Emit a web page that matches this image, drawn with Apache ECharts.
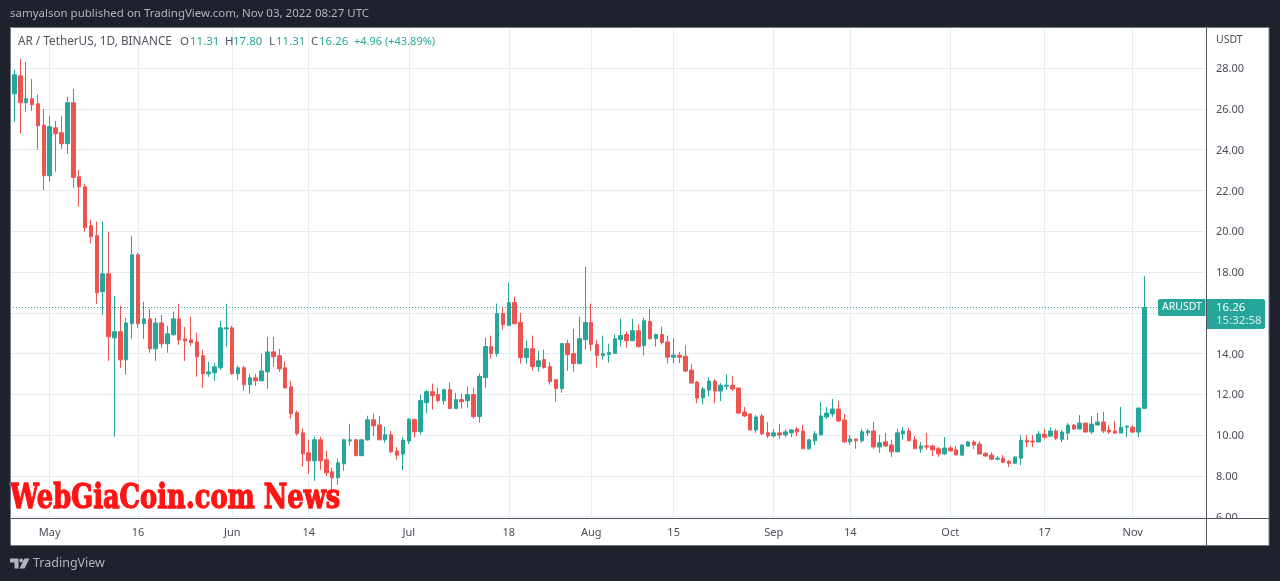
<!DOCTYPE html>
<html>
<head>
<meta charset="utf-8">
<style>html,body{margin:0;padding:0;background:#1e222d}#c{width:1280px;height:581px}</style>
<script src="https://cdn.jsdelivr.net/npm/echarts@6/dist/echarts.min.js"></script>
</head>
<body>
<div id="c"></div>
<script>
// Daily candles, first entry is Apr 24 2022, last is Nov 3 2022.
var opens = [
27.85,26.74,27.62,26.30,26.50,26.25,25.20,
22.72,25.07,24.83,24.29,26.30,22.67,22.18,20.27,19.78,17.03,17.91,14.77,15.07,13.69,15.46,18.84,15.46,15.70,14.23,15.50,14.48,14.92,15.70,14.72,14.67,14.57,13.89,13.01,13.06,13.30,15.21,
15.26,13.01,13.30,12.47,12.81,12.66,13.10,14.08,13.89,13.30,12.37,11.10,10.11,9.13,8.74,9.77,8.79,8.20,7.91,8.59,9.72,9.77,8.99,9.77,10.75,10.50,9.77,10.02,9.22,9.07,
9.71,10.76,10.17,11.59,12.13,11.99,11.69,12.23,11.30,11.74,11.69,11.99,10.91,12.82,14.34,14.00,15.96,15.37,16.50,15.52,13.80,14.24,13.36,13.70,13.36,12.72,12.28,14.49,14.00,13.51,14.68,
15.52,14.44,13.90,13.95,14.00,14.68,14.93,14.63,15.12,14.39,15.57,14.73,14.93,14.57,13.82,13.92,13.87,13.19,12.60,11.82,12.21,12.65,12.16,12.40,12.45,12.31,11.13,11.04,10.25,10.94,10.11,
9.96,10.11,10.01,10.11,10.30,10.20,9.33,9.72,10.01,10.89,11.04,11.28,10.74,9.67,9.81,9.72,10.11,10.20,9.42,9.67,9.52,9.18,10.06,10.20,9.77,9.33,9.47,9.47,9.33,9.08,
9.37,9.28,9.02,9.46,9.66,9.56,9.11,9.02,8.82,8.87,8.72,8.62,8.87,9.75,9.70,9.66,10.05,9.95,10.20,9.80,10.10,10.49,10.30,10.59,10.15,10.49,10.64,10.25,10.20,10.10,10.39,
10.39,10.15,11.31];
var closes = [
26.68,27.67,26.30,26.50,26.20,25.17,22.72,
25.12,24.78,24.29,26.30,22.63,22.18,20.17,19.73,16.98,17.91,14.82,15.07,13.69,15.50,18.84,15.46,15.70,14.23,15.50,14.48,14.97,15.70,14.67,14.62,14.53,13.84,13.01,13.10,13.35,15.26,15.26,
13.01,13.30,12.47,12.81,12.66,13.15,14.08,13.84,13.25,12.32,11.05,10.07,9.08,8.74,9.77,8.74,8.15,7.91,8.64,9.77,9.77,8.99,9.77,10.75,10.46,9.77,10.02,9.18,9.02,9.76,
10.78,10.17,11.69,12.13,11.94,11.69,12.23,11.30,11.74,11.64,11.99,10.91,12.87,14.34,14.00,15.96,15.42,16.50,15.47,13.80,14.24,13.36,13.65,13.31,12.62,12.28,14.49,13.95,13.51,14.73,15.52,
14.44,13.90,14.00,14.05,14.73,14.88,14.63,15.12,14.34,15.61,14.73,14.93,14.54,13.82,13.92,13.82,13.14,12.55,11.82,12.26,12.65,12.16,12.45,12.45,12.26,11.08,10.94,10.25,10.89,10.06,9.96,
10.11,10.01,10.16,10.25,10.16,9.33,9.77,10.06,10.94,11.08,11.28,10.69,9.67,9.81,9.72,10.16,10.20,9.42,9.62,9.47,9.18,10.11,10.20,9.72,9.33,9.47,9.42,9.28,9.08,9.37,
9.23,9.03,9.51,9.66,9.51,9.07,8.97,8.82,8.87,8.67,8.62,8.92,9.75,9.66,9.66,10.05,9.90,10.20,9.85,10.15,10.49,10.30,10.59,10.15,10.54,10.64,10.20,10.15,10.10,10.39,10.44,
10.15,11.33,16.26];
var highs = [
28.20,27.91,28.45,28.30,27.47,26.70,26.00,
25.66,25.41,25.66,26.60,26.98,23.00,22.33,20.57,20.47,20.47,19.98,16.83,16.34,15.75,19.77,18.94,16.54,16.19,15.75,15.90,15.36,16.05,16.44,15.31,15.80,15.02,14.18,13.60,13.55,15.60,16.44,
15.36,13.40,13.40,13.01,13.01,13.99,14.82,14.82,14.23,13.60,12.66,11.20,10.31,9.77,9.92,9.92,9.23,8.40,8.84,9.82,10.55,9.82,9.82,10.95,11.05,10.95,10.41,10.20,9.41,9.90,
10.83,10.81,11.99,12.23,12.53,12.33,12.28,12.58,12.08,12.04,12.38,12.33,13.02,14.78,14.88,16.45,16.30,17.48,16.79,16.00,14.63,14.88,14.14,14.19,13.56,12.72,14.49,14.68,15.22,15.81,18.26,
16.45,14.68,14.88,14.49,14.93,15.71,15.08,15.71,15.42,15.76,16.20,14.98,15.32,14.88,14.75,14.07,14.41,13.48,12.65,12.36,12.84,12.75,12.55,12.99,12.89,12.31,11.38,11.04,10.99,11.04,10.65,
10.30,10.55,10.30,10.30,10.40,10.50,9.81,10.20,11.62,11.38,11.77,11.67,11.04,10.01,9.81,10.30,10.30,10.65,10.01,10.11,9.77,10.30,10.40,10.35,9.96,9.67,10.11,9.52,9.42,9.91,
9.47,9.47,9.56,9.70,9.75,9.70,9.16,9.16,8.97,9.02,8.77,8.97,10.00,10.00,10.00,10.20,10.30,10.39,10.30,10.25,10.59,10.54,10.98,10.59,10.93,11.08,11.13,10.49,10.69,11.38,10.49,
10.49,11.33,17.80];
var lows = [
26.50,25.37,24.78,25.85,25.90,24.00,22.03,
22.43,22.92,24.04,23.80,22.14,21.20,19.98,19.40,16.44,15.90,13.64,9.92,13.30,12.96,14.72,15.26,14.72,14.04,13.64,14.28,14.04,14.87,14.43,13.64,14.38,12.86,12.32,12.86,12.66,13.20,14.33,
12.96,12.71,12.17,12.03,12.42,12.66,12.27,13.35,13.10,12.27,10.80,9.97,8.45,8.10,7.76,8.30,8.00,7.22,7.56,8.25,9.48,8.99,8.99,9.72,9.97,9.77,9.62,9.12,8.78,8.29,
9.56,9.88,10.03,11.06,11.25,11.59,11.50,11.30,11.30,11.30,11.35,10.81,10.61,12.33,13.75,13.85,15.17,15.37,15.42,13.51,13.51,13.16,13.11,13.26,12.48,11.64,12.08,13.16,13.11,13.46,14.19,
14.14,13.31,13.70,13.56,14.00,14.34,14.29,14.63,14.29,13.90,14.68,14.34,14.44,13.51,13.53,13.53,13.09,12.55,11.57,11.52,11.92,11.57,11.67,12.21,12.16,11.04,10.89,10.25,10.11,10.01,9.86,
9.86,9.81,9.91,9.91,9.96,9.33,9.28,9.52,10.01,10.79,10.89,10.65,9.62,9.52,9.33,9.62,9.96,9.33,9.13,9.42,8.93,9.18,9.77,9.72,9.33,9.13,9.28,8.98,8.93,9.03,
9.18,9.03,8.97,9.46,9.31,9.07,8.97,8.77,8.77,8.62,8.43,8.62,8.52,9.41,9.41,9.66,9.80,9.95,9.75,9.66,9.75,10.25,10.30,10.15,10.05,10.49,10.10,10.05,10.05,10.10,9.90,
10.10,9.90,11.31];
// Time axis: day number counted from Apr 24 and the label shown there.
var timeTickDays = [7,22,38,51,68,85,99,113,130,143,160,176,191];
var timeTickLabels = ['May','16','Jun','14','Jul','18','Aug','15','Sep','14','Oct','17','Nov'];
var priceTicks = [6,8,10,12,14,16,18,20,22,24,26,28];
var lastClose = 16.26;
var legendParts = [['AR / TetherUS, 1D, BINANCE',18,'#50535e',11.75],['O',180,'#50535e',11.5],['11.31',190,'#26a69a',11.5],['H',225,'#50535e',11.5],['17.80',233,'#26a69a',11.5],['L',269,'#50535e',11.5],['11.31',276,'#26a69a',11.5],['C',311,'#50535e',11.5],['16.26',319,'#26a69a',11.5],['+4.96 (+43.89%)',354,'#26a69a',11]];

var candles = opens.map(function(o,i){return [i,o,closes[i],lows[i],highs[i]];});
var UP='#26a69a',DOWN='#ef5350',GRID='#e4edf3',INK='#4a4d58',LINE='#50535e',FONT='"Noto Sans", sans-serif';

var chart = echarts.init(document.getElementById('c'),null,{renderer:'canvas'});
function T(text,x,y,color,size,extra){
  var s={text:text,x:x,y:y,fill:color,font:size+'px '+FONT,textVerticalAlign:'middle'};
  if(extra)for(var k in extra)s[k]=extra[k];
  return {type:'text',z:110,silent:true,style:s};
}
chart.setOption({
  animation:false,
  backgroundColor:'#1e222d',
  grid:{left:10,top:27.1,width:1196,height:491,show:false},
  xAxis:{type:'value',min:0.25,max:203.45,
    axisLine:{show:false},
    axisTick:{show:false,customValues:timeTickDays},
    splitLine:{show:true,lineStyle:{color:GRID,width:1}},
    axisLabel:{customValues:timeTickDays,margin:9,color:INK,fontSize:11,fontFamily:FONT,
      formatter:function(v){var i=timeTickDays.indexOf(v);return i<0?'':timeTickLabels[i];}}
  },
  yAxis:{type:'value',position:'right',min:5.93,max:30.01,
    axisLine:{show:false},
    axisTick:{show:false,customValues:priceTicks},
    splitLine:{show:true,lineStyle:{color:GRID,width:1}},
    axisLabel:{customValues:priceTicks,margin:10,color:INK,fontSize:11,fontFamily:FONT,
      rich:{p:{padding:[2,0,0,0],color:INK,fontSize:11,fontFamily:FONT}},
      formatter:function(v){return '{p|'+v.toFixed(2)+'}';}}
  },
  series:[{type:'candlestick',large:false,progressive:0,barWidth:4,clip:true,
    itemStyle:{color:UP,color0:DOWN,borderColor:UP,borderColor0:DOWN,borderWidth:1},
    data:candles,
    markLine:{silent:true,symbol:'none',animation:false,label:{show:false},
      lineStyle:{type:[1,2],color:UP,width:1},data:[{yAxis:lastClose}]}
  }]
});
var py=Math.round(chart.convertToPixel({yAxisIndex:0},lastClose));
var g=[
  {type:'rect',z:-5,silent:true,shape:{x:10,y:27,width:1259,height:518},style:{fill:'#fff'}},
  {type:'rect',z:105,silent:true,shape:{x:0,y:27,width:10,height:520},style:{fill:'#1e222d'}},
  {type:'rect',z:100,silent:true,shape:{x:1207,y:519,width:62,height:26},style:{fill:'#fff'}},
  {type:'rect',z:109,silent:true,shape:{x:10.5,y:27.5,width:1258.5,height:518},style:{fill:'none',stroke:'#787b86',lineWidth:1}},
  {type:'line',z:109,silent:true,shape:{x1:11,y1:518.5,x2:1269,y2:518.5},style:{stroke:LINE,lineWidth:1}},
  {type:'line',z:109,silent:true,shape:{x1:1206.5,y1:28,x2:1206.5,y2:545},style:{stroke:LINE,lineWidth:1}},
  T('samyalson published on TradingView.com, Nov 03, 2022 08:27 UTC',10,14,'#b2b5be',11.5),
  T('USDT',1216,40,INK,10.5),
  {type:'rect',z:110,silent:true,shape:{x:1158,y:py-8,width:47.5,height:17,r:[2,0,0,2]},style:{fill:UP}},
  {type:'rect',z:110,silent:true,shape:{x:1207,y:py-8,width:58,height:30,r:[0,2,2,0]},style:{fill:UP}},
  T('ARUSDT',1162,py,'#fff',10.5),
  T('16.26',1216,py+0.5,'#fff',11.5),
  T('15:32:58',1216,py+13.5,'#d4edeb',11.5),
  {type:'text',z:108,silent:true,scaleX:0.78,originX:10,originY:499,style:{text:'WebGiaCoin.com News',x:10,y:499,fill:'#ff1414',stroke:'#ff1414',lineWidth:1.3,font:'bold 33px "DejaVu Serif", serif',textVerticalAlign:'middle'}},
  {type:'polygon',z:110,silent:true,shape:{points:[[10,558.5],[18.5,558.5],[18.5,568.5],[14.5,568.5],[14.5,562.5],[10,562.5]]},style:{fill:'#b2b5be'}},
  {type:'polygon',z:110,silent:true,shape:{points:[[24.5,558.5],[29.5,558.5],[24.5,568.5],[19.5,568.5]]},style:{fill:'#b2b5be'}},
  {type:'circle',z:110,silent:true,shape:{cx:21.3,cy:560.5,r:2},style:{fill:'#b2b5be'}},
  T('TradingView',33,563.5,'#b2b5be',12.5)
];
legendParts.forEach(function(p){g.push(T(p[0],p[1],41.5,p[2],p[3]));});
chart.setOption({graphic:g});
</script>
</body>
</html>
